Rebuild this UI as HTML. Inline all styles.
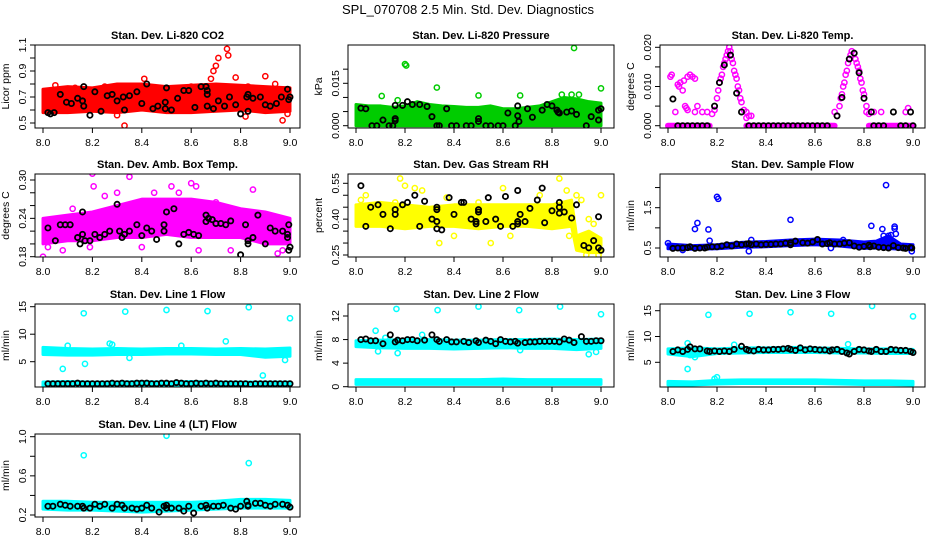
<!DOCTYPE html>
<html><head><meta charset="utf-8">
<style>
body{margin:0;background:#fff;}
svg{display:block;font-family:"Liberation Sans",sans-serif;}
</style></head>
<body>
<svg id="chart" width="936" height="540" viewBox="0 0 936 540">
<text x="468" y="14" text-anchor="middle" font-size="13">SPL_070708  2.5 Min. Std. Dev. Diagnostics</text>
</svg>
<script>
// ---------- data ----------
const xTicks=[8.0,8.2,8.4,8.6,8.8,9.0];
const xTickLabels=["8.0","8.2","8.4","8.6","8.8","9.0"];
const step10=[8.0,8.1,8.2,8.3,8.4,8.5,8.6,8.7,8.8,8.9,9.0];

// CO2
const co2BandLo=[0.58,0.58,0.59,0.58,0.60,0.58,0.58,0.59,0.60,0.58,0.59];
const co2BandHi=[0.76,0.78,0.77,0.80,0.80,0.78,0.79,0.80,0.79,0.78,0.77];
const co2Out=[[8.33,0.48],[8.41,0.84],[8.69,0.90],[8.70,0.94],[8.71,1.0],[8.745,1.07],[8.75,1.02],[8.68,0.84],[8.78,0.85],[8.9,0.86],[8.94,0.8],[8.83,0.78],[8.82,0.55],[8.97,0.52],[8.99,0.57],[8.30,0.56],[8.05,0.79],[8.13,0.77],[8.25,0.78],[8.6,0.78]];
const co2Black=[[8.02,0.58],[8.03,0.57],[8.045,0.58],[8.07,0.72],[8.095,0.66],[8.115,0.65],[8.14,0.69],[8.16,0.67],[8.165,0.78],[8.165,0.63],[8.19,0.56],[8.21,0.74],[8.235,0.59],[8.26,0.71],[8.28,0.72],[8.3,0.67],[8.325,0.7],[8.33,0.6],[8.35,0.71],[8.38,0.74],[8.4,0.65],[8.42,0.8],[8.445,0.61],[8.465,0.63],[8.495,0.66],[8.495,0.61],[8.5,0.77],[8.52,0.6],[8.545,0.69],[8.57,0.75],[8.59,0.75],[8.615,0.62],[8.64,0.78],[8.66,0.78],[8.665,0.72],[8.665,0.75],[8.665,0.63],[8.69,0.61],[8.71,0.67],[8.735,0.63],[8.755,0.7],[8.78,0.64],[8.8,0.57],[8.825,0.7],[8.83,0.59],[8.83,0.72],[8.85,0.69],[8.88,0.7],[8.9,0.64],[8.92,0.63],[8.945,0.65],[8.965,0.7],[8.99,0.76],[8.995,0.68],[9.0,0.7]];

// Pressure
const presBandX=[8.0,8.05,8.1,8.15,8.2,8.25,8.3,8.35,8.4,8.45,8.5,8.55,8.6,8.65,8.7,8.75,8.8,8.85,8.9,8.95,9.0];
const presBandLo=[0,0,0,0,0,0,0,0,0,0,0,0,0,0,0,0,0,0,0,0,0];
const presBandHi=[0.0075,0.007,0.007,0.0065,0.007,0.0085,0.0075,0.007,0.0068,0.0065,0.0065,0.007,0.006,0.006,0.0065,0.007,0.0085,0.0100,0.0095,0.0085,0.008];
const presOut=[[8.2,0.0218],[8.205,0.0213],[8.89,0.0275],[8.33,0.0135],[9.0,0.0132],[8.105,0.0105],[8.5,0.0107],[8.67,0.0107],[8.84,0.011],[8.88,0.011],[8.91,0.011],[8.17,0.009]];
const presBlack=[[8.02,0.0062],[8.04,0.006],[8.065,0],[8.085,0],[8.11,0.002],[8.135,0],[8.15,0],[8.16,0.0072],[8.16,0.0025],[8.16,0.0018],[8.19,0.0072],[8.21,0.0085],[8.23,0.0075],[8.26,0.0075],[8.29,0.0068],[8.31,0.0032],[8.33,0],[8.34,0],[8.37,0.006],[8.39,0],[8.41,0],[8.45,0],[8.47,0],[8.5,0.0025],[8.5,0.0015],[8.53,0],[8.55,0],[8.58,0],[8.6,0],[8.62,0.0045],[8.65,0],[8.66,0.007],[8.66,0.0035],[8.665,0.0015],[8.7,0.006],[8.72,0.003],[8.76,0.0055],[8.78,0.0075],[8.8,0.007],[8.82,0.0055],[8.825,0.0048],[8.83,0.0045],[8.86,0.0048],[8.88,0.0052],[8.9,0.004],[8.94,0],[8.96,0.0032],[8.99,0.0055],[8.99,0.002],[9.0,0.006]];

// Temp
const tempBaseX=[8.0,8.17,8.32,8.68,8.82,9.0];
const tempPts=[[8.01,0.0125],[8.015,0.013],[8.03,0.0035],[8.04,0.0105],[8.045,0.01],[8.05,0.011],[8.06,0.009],[8.065,0.0115],[8.07,0.005],[8.08,0.0125],[8.09,0.013],[8.1,0.0125],[8.11,0.012],[8.12,0.005],[8.075,0.0045],[8.08,0.004],[8.11,0.0035],[8.14,0.0035],[8.16,0.0035],
[8.18,0.003],[8.19,0.004],[8.2,0.007],[8.205,0.009],[8.21,0.011],[8.215,0.012],[8.22,0.013],[8.225,0.015],[8.23,0.016],[8.235,0.017],[8.24,0.018],[8.245,0.019],[8.25,0.02],[8.255,0.019],[8.26,0.017],[8.265,0.016],[8.27,0.014],[8.275,0.013],[8.28,0.012],[8.285,0.010],[8.29,0.009],[8.295,0.007],[8.3,0.006],[8.31,0.004],[8.32,0.002],[8.32,0.0035],[8.33,0.0025],[8.34,0.0025],
[8.68,0.0035],[8.69,0.0025],[8.7,0.005],[8.705,0.007],[8.71,0.008],[8.715,0.01],[8.72,0.011],[8.725,0.013],[8.73,0.014],[8.735,0.016],[8.74,0.017],[8.745,0.018],[8.75,0.019],[8.76,0.0185],[8.765,0.017],[8.77,0.016],[8.775,0.015],[8.78,0.014],[8.785,0.012],[8.79,0.011],[8.795,0.009],[8.8,0.008],[8.81,0.005],[8.82,0.003],[8.81,0.0035],[8.84,0.0035],[8.87,0.0035],[8.97,0.0035],[8.98,0.0045]];
const tempBlack=[[8.02,0.0068],[8.04,0],[8.06,0],[8.08,0],[8.1,0],[8.12,0],[8.14,0],[8.16,0],[8.19,0.005],[8.21,0.011],[8.23,0.0155],[8.255,0.018],[8.28,0.0083],[8.3,0.0035],[8.33,0],[8.35,0],[8.37,0],[8.39,0],[8.41,0],[8.43,0],[8.45,0],[8.47,0],[8.49,0],[8.51,0],[8.53,0],[8.55,0],[8.57,0],[8.59,0],[8.61,0],[8.63,0],[8.65,0],[8.69,0.0025],[8.71,0.0072],[8.74,0.017],[8.76,0.0185],[8.78,0.0135],[8.8,0.007],[8.83,0.0035],[8.84,0],[8.86,0],[8.88,0],[8.92,0.0035],[8.95,0],[8.97,0],[8.99,0.0035],[9.0,0]];

// Amb box temp
const ambBandLo=[0.20,0.205,0.205,0.21,0.21,0.215,0.21,0.21,0.21,0.20,0.20];
const ambBandHi=[0.24,0.245,0.25,0.26,0.27,0.27,0.27,0.265,0.255,0.25,0.24];
const ambOut=[[8.0,0.18],[8.2,0.31],[8.205,0.29],[8.35,0.305],[8.6,0.295],[8.85,0.285],[8.52,0.29],[8.62,0.29],[8.12,0.255],[8.02,0.195],[8.08,0.19],[8.19,0.195],[8.4,0.195],[8.63,0.19],[8.76,0.19],[8.95,0.185],[8.97,0.19],[8.3,0.28],[8.25,0.275],[8.45,0.28],[8.55,0.28],[8.7,0.265]];
const ambBlack=[[8.02,0.225],[8.05,0.205],[8.07,0.23],[8.09,0.23],[8.11,0.23],[8.14,0.21],[8.15,0.2],[8.16,0.25],[8.16,0.215],[8.17,0.205],[8.19,0.205],[8.21,0.215],[8.23,0.21],[8.25,0.215],[8.27,0.22],[8.3,0.262],[8.31,0.22],[8.32,0.21],[8.33,0.215],[8.35,0.22],[8.38,0.23],[8.4,0.213],[8.42,0.225],[8.44,0.22],[8.46,0.207],[8.49,0.22],[8.49,0.23],[8.5,0.25],[8.53,0.255],[8.55,0.2],[8.57,0.215],[8.59,0.218],[8.61,0.215],[8.63,0.213],[8.66,0.245],[8.66,0.235],[8.67,0.24],[8.685,0.238],[8.7,0.232],[8.72,0.232],[8.74,0.23],[8.76,0.236],[8.8,0.183],[8.82,0.23],[8.83,0.205],[8.83,0.2],[8.85,0.21],[8.87,0.245],[8.9,0.2],[8.92,0.225],[8.94,0.22],[8.97,0.22],[8.99,0.215],[8.99,0.21],[8.995,0.19],[9.0,0.195],[8.995,0.23]];

// Gas stream RH
const rhBandX=[8.0,8.1,8.2,8.3,8.4,8.5,8.6,8.7,8.8,8.88,8.9,8.95,9.0];
const rhBandLo=[0.37,0.37,0.36,0.37,0.37,0.36,0.37,0.37,0.36,0.37,0.27,0.26,0.26];
const rhBandHi=[0.46,0.47,0.46,0.45,0.46,0.46,0.46,0.46,0.46,0.48,0.33,0.35,0.32];
const rhOut=[[8.02,0.48],[8.04,0.5],[8.18,0.57],[8.2,0.54],[8.24,0.53],[8.27,0.52],[8.37,0.49],[8.5,0.47],[8.6,0.53],[8.75,0.5],[8.83,0.57],[8.86,0.52],[8.9,0.5],[8.92,0.48],[9.0,0.5],[8.16,0.47],[8.34,0.3],[8.4,0.33],[8.55,0.3],[8.63,0.33],[8.87,0.33],[8.95,0.4],[8.97,0.38],[8.99,0.25],[8.94,0.25]];
const rhBlack=[[8.02,0.54],[8.04,0.37],[8.06,0.45],[8.09,0.46],[8.11,0.42],[8.14,0.36],[8.16,0.44],[8.16,0.42],[8.19,0.46],[8.21,0.47],[8.24,0.5],[8.26,0.37],[8.28,0.475],[8.31,0.4],[8.33,0.39],[8.33,0.44],[8.33,0.45],[8.33,0.36],[8.35,0.355],[8.38,0.49],[8.4,0.42],[8.43,0.47],[8.44,0.47],[8.47,0.4],[8.49,0.38],[8.5,0.43],[8.5,0.44],[8.49,0.39],[8.53,0.39],[8.54,0.49],[8.57,0.4],[8.59,0.37],[8.61,0.495],[8.64,0.37],[8.66,0.52],[8.66,0.38],[8.67,0.42],[8.66,0.39],[8.69,0.39],[8.71,0.445],[8.74,0.48],[8.76,0.53],[8.77,0.385],[8.8,0.435],[8.83,0.47],[8.83,0.45],[8.83,0.425],[8.85,0.43],[8.88,0.405],[8.9,0.46],[8.93,0.29],[8.95,0.28],[8.97,0.31],[8.99,0.28],[9.0,0.27],[8.99,0.41]];

// Sample flow
const sfBandX=[8.0,8.1,8.2,8.3,8.4,8.5,8.6,8.7,8.8,8.85,8.9,8.95,9.0];
const sfBandLo=[0.48,0.47,0.48,0.52,0.53,0.56,0.58,0.55,0.49,0.5,0.49,0.47,0.47];
const sfBandHi=[0.6,0.56,0.58,0.64,0.66,0.7,0.72,0.7,0.65,0.67,0.8,0.6,0.58];
const sfOut=[[8.0,0.62],[8.11,0.97],[8.12,1.12],[8.165,0.96],[8.17,0.68],[8.2,1.77],[8.205,1.72],[8.33,0.42],[8.34,0.7],[8.5,1.2],[8.5,0.65],[8.665,0.5],[8.715,0.7],[8.83,1.05],[8.875,0.97],[8.89,2.06],[8.925,1.03],[8.925,0.98],[8.93,0.85],[8.9,0.8],[8.91,0.82],[8.88,0.8],[8.995,0.42],[8.06,0.45]];
const sfBlack=[[8.02,0.49],[8.04,0.5],[8.06,0.5],[8.08,0.51],[8.09,0.53],[8.11,0.49],[8.13,0.5],[8.15,0.5],[8.16,0.52],[8.18,0.53],[8.2,0.53],[8.22,0.55],[8.24,0.58],[8.26,0.55],[8.28,0.6],[8.3,0.58],[8.32,0.6],[8.33,0.61],[8.34,0.58],[8.36,0.6],[8.38,0.58],[8.4,0.59],[8.42,0.59],[8.44,0.6],[8.46,0.6],[8.48,0.62],[8.5,0.58],[8.5,0.63],[8.52,0.67],[8.55,0.63],[8.57,0.62],[8.59,0.65],[8.61,0.71],[8.63,0.6],[8.65,0.61],[8.66,0.63],[8.68,0.6],[8.7,0.6],[8.72,0.62],[8.74,0.63],[8.76,0.55],[8.78,0.52],[8.8,0.54],[8.82,0.57],[8.825,0.53],[8.84,0.55],[8.86,0.52],[8.88,0.51],[8.9,0.5],[8.92,0.56],[8.94,0.51],[8.96,0.5],[8.97,0.49],[8.99,0.51],[8.995,0.5]];

// Line 1
const l1BandLo=[6.3,6.2,6.2,6.3,6.3,6.4,6.4,6.3,6.3,5.8,6.0];
const l1BandHi=[7.6,7.4,7.3,7.4,7.3,7.4,7.4,7.3,7.4,7.3,7.5];
const l1Band2Lo=[0.6,0.6,0.6,0.6,0.6,0.6,0.6,0.6,0.6,0.6,0.6];
const l1Band2Hi=[1.3,1.4,1.3,1.3,1.4,1.3,1.4,1.3,1.3,1.3,1.3];
const l1Out=[[8.08,3.7],[8.165,13.8],[8.17,4.6],[8.333,14.1],[8.5,14.4],[8.666,14.2],[8.833,14.9],[9.0,12.9],[8.89,2.5],[8.98,5.3],[8.27,8.3],[8.28,8.1],[8.74,8.7],[8.1,7.9],[8.56,7.9],[8.35,5.7]];
const l1BlackX=[8.02,8.04,8.06,8.08,8.1,8.12,8.14,8.16,8.18,8.2,8.22,8.24,8.26,8.28,8.3,8.32,8.34,8.36,8.38,8.4,8.42,8.44,8.46,8.48,8.5,8.52,8.54,8.56,8.58,8.6,8.62,8.64,8.66,8.68,8.7,8.72,8.74,8.76,8.78,8.8,8.82,8.84,8.86,8.88,8.9,8.92,8.94,8.96,8.98,9.0];
const l1BlackY=[1.0,1.0,1.0,1.0,1.0,1.0,1.1,1.0,1.0,1.0,1.0,1.0,1.0,1.1,1.0,1.1,1.0,1.0,1.1,1.1,1.1,1.0,1.0,1.1,1.1,1.0,1.2,1.1,1.0,1.0,1.1,1.0,1.1,1.0,1.1,1.0,1.0,1.0,1.0,1.0,1.0,0.9,1.0,1.0,1.0,1.0,1.0,1.0,1.0,1.0];

// Line 2
const l2BandLo=[6.8,6.6,6.5,6.5,6.4,6.5,6.6,6.5,6.5,6.3,6.5];
const l2BandHi=[7.8,7.9,8.0,8.0,7.9,7.9,8.0,8.0,8.1,8.0,8.1];
const l2Band2Lo=[0.4,0.4,0.4,0.4,0.4,0.4,0.4,0.4,0.4,0.4,0.4];
const l2Band2Hi=[1.2,1.2,1.2,1.2,1.2,1.2,1.3,1.2,1.2,1.2,1.2];
const l2Out=[[8.08,9.5],[8.165,13.2],[8.333,13.0],[8.5,13.6],[8.666,13.0],[8.833,13.6],[9.0,12.3],[8.09,6.0],[8.17,5.7],[8.27,8.8],[8.95,5.5],[8.98,5.9],[8.67,6.2],[8.12,8.3]];
const l2Black=[[8.02,8.0],[8.04,8.1],[8.06,7.8],[8.08,7.8],[8.11,7.3],[8.14,8.8],[8.16,7.6],[8.17,7.9],[8.19,7.8],[8.21,8.0],[8.23,8.0],[8.25,7.8],[8.28,7.9],[8.31,8.8],[8.33,8.0],[8.34,7.7],[8.37,8.0],[8.39,7.6],[8.41,7.6],[8.44,7.7],[8.46,7.5],[8.49,7.8],[8.5,7.5],[8.53,7.9],[8.55,7.7],[8.57,7.3],[8.59,8.0],[8.61,7.7],[8.63,7.6],[8.65,7.7],[8.66,7.4],[8.69,7.5],[8.71,7.6],[8.73,7.6],[8.75,7.7],[8.77,7.7],[8.79,7.7],[8.81,7.7],[8.83,7.6],[8.85,8.1],[8.87,7.9],[8.89,7.5],[8.92,8.5],[8.94,7.7],[8.96,7.7],[8.98,7.8],[9.0,7.8]];

// Line 3
const l3BandLo=[6.6,6.1,6.7,6.8,6.9,6.9,6.9,6.8,6.8,6.7,6.7];
const l3BandHi=[7.6,7.8,7.6,7.8,7.8,7.9,7.8,7.7,7.6,7.6,7.5];
const l3Band2Lo=[0.6,0.6,0.8,0.9,0.9,0.9,0.9,0.8,0.7,0.7,0.6];
const l3Band2Hi=[1.3,1.2,1.5,1.6,1.6,1.6,1.6,1.5,1.4,1.4,1.3];
const l3Out=[[8.08,3.7],[8.08,8.7],[8.11,6.0],[8.165,14.2],[8.19,1.8],[8.2,2.1],[8.27,8.4],[8.333,14.4],[8.5,14.7],[8.666,14.4],[8.735,8.5],[8.833,15.9],[9.0,13.9],[8.09,6.4]];
const l3Black=[[8.02,7.1],[8.04,7.4],[8.06,7.1],[8.08,7.5],[8.09,8.0],[8.11,7.6],[8.13,7.6],[8.16,7.2],[8.17,7.1],[8.19,7.2],[8.21,7.1],[8.23,7.2],[8.25,7.1],[8.27,7.5],[8.3,8.1],[8.32,7.5],[8.33,7.3],[8.35,7.2],[8.37,7.5],[8.39,7.4],[8.41,7.4],[8.43,7.5],[8.45,7.5],[8.47,7.6],[8.49,7.7],[8.5,7.5],[8.52,7.3],[8.54,7.8],[8.56,7.4],[8.58,7.6],[8.6,7.5],[8.62,7.4],[8.64,7.4],[8.66,7.2],[8.67,7.4],[8.69,7.5],[8.71,7.1],[8.73,6.8],[8.74,6.6],[8.76,7.1],[8.78,7.5],[8.8,7.4],[8.82,7.2],[8.83,7.1],[8.85,7.5],[8.87,7.1],[8.89,7.1],[8.91,7.5],[8.93,7.4],[8.95,7.3],[8.97,7.3],[8.99,7.1],[9.0,6.9]];

// Line 4
const l4BandLo=[0.26,0.25,0.25,0.24,0.23,0.24,0.25,0.26,0.27,0.27,0.27];
const l4BandHi=[0.34,0.34,0.33,0.33,0.33,0.33,0.33,0.34,0.36,0.36,0.35];
const l4Out=[[8.165,0.81],[8.5,1.01],[8.833,0.73]];
const l4Black=[[8.02,0.29],[8.04,0.29],[8.07,0.31],[8.09,0.3],[8.11,0.29],[8.14,0.29],[8.16,0.29],[8.165,0.27],[8.19,0.27],[8.21,0.31],[8.23,0.29],[8.25,0.31],[8.28,0.27],[8.3,0.31],[8.32,0.3],[8.33,0.27],[8.36,0.27],[8.38,0.26],[8.4,0.27],[8.42,0.3],[8.44,0.27],[8.47,0.23],[8.49,0.29],[8.5,0.27],[8.5,0.3],[8.52,0.27],[8.55,0.27],[8.57,0.24],[8.59,0.29],[8.61,0.22],[8.64,0.29],[8.66,0.3],[8.665,0.27],[8.69,0.29],[8.71,0.29],[8.73,0.3],[8.76,0.27],[8.78,0.26],[8.8,0.29],[8.825,0.34],[8.83,0.3],[8.83,0.29],[8.86,0.32],[8.88,0.32],[8.9,0.3],[8.92,0.29],[8.94,0.31],[8.97,0.31],[8.99,0.3],[9.0,0.28]];

// ---------- drawing ----------
const NS="http://www.w3.org/2000/svg";
const svg=document.getElementById('chart');
function mk(tag,attrs,parent){const e=document.createElementNS(NS,tag);for(const k in attrs)e.setAttribute(k,attrs[k]);(parent||svg).appendChild(e);return e;}

const cols=[{L:35,R:300,x0:43,x1:290},{L:348,R:614,x0:356,x1:601},{L:660,R:925,x0:668,x1:913}];
const rows=[{T:45,B:128},{T:174,B:257},{T:304,B:387},{T:434,B:517}];

const panels=[
 {name:'co2',title:'Stan. Dev. Li-820 CO2',ylab:'Licor ppm',c:0,r:0,color:'#ff0000',ya:[0.5,123],yb:[1.1,45],ticks:[0.5,0.6,0.7,0.8,0.9,1.0,1.1],labels:["0.5","","0.7","","0.9","","1.1"],
  bands:[[step10,co2BandLo,co2BandHi]],out:co2Out,black:co2Black},
 {name:'pressure',title:'Stan. Dev. Li-820 Pressure',ylab:'kPa',c:1,r:0,color:'#00cc00',ya:[0,125.7],yb:[0.015,83.3],ticks:[0,0.005,0.01,0.015,0.02],labels:["0.000","","","0.015",""],
  bands:[[presBandX,presBandLo,presBandHi]],out:presOut,black:presBlack},
 {name:'temp',title:'Stan. Dev. Li-820 Temp.',ylab:'degrees C',c:2,r:0,color:'#ff00ff',ya:[0,125.7],yb:[0.02,47.3],ticks:[0,0.005,0.01,0.015,0.02],labels:["0.000","","0.010","","0.020"],
  bands:[],base:tempBaseX,out:tempPts,black:tempBlack},
 {name:'amb-box',title:'Stan. Dev. Amb. Box Temp.',ylab:'degrees C',c:0,r:1,color:'#ff00ff',ya:[0.18,256.7],yb:[0.30,180],ticks:[0.18,0.2,0.22,0.24,0.26,0.28,0.30],labels:["0.18","","","0.24","","","0.30"],
  bands:[[step10,ambBandLo,ambBandHi]],out:ambOut,black:ambBlack},
 {name:'gas-rh',title:'Stan. Dev. Gas Stream RH',ylab:'percent',c:1,r:1,color:'#ffff00',ya:[0.25,255],yb:[0.55,183.3],ticks:[0.25,0.3,0.35,0.4,0.45,0.5,0.55],labels:["0.25","","","0.40","","","0.55"],
  bands:[[rhBandX,rhBandLo,rhBandHi]],out:rhOut,black:rhBlack},
 {name:'sample-flow',title:'Stan. Dev. Sample Flow',ylab:'ml/min',c:2,r:1,color:'#0000ff',ya:[0.5,248],yb:[1.5,207.7],ticks:[0.5,1.0,1.5,2.0],labels:["0.5","","1.5",""],
  bands:[[sfBandX,sfBandLo,sfBandHi]],out:sfOut,black:sfBlack},
 {name:'line1',title:'Stan. Dev. Line 1 Flow',ylab:'ml/min',c:0,r:2,color:'#00ffff',ya:[5,361.7],yb:[15,306.7],ticks:[5,10,15],labels:["5","10","15"],
  bands:[[step10,l1BandLo,l1BandHi],[step10,l1Band2Lo,l1Band2Hi]],out:l1Out,black:l1BlackX.map((x,i)=>[x,l1BlackY[i]])},
 {name:'line2',title:'Stan. Dev. Line 2 Flow',ylab:'ml/min',c:1,r:2,color:'#00ffff',ya:[0,386.7],yb:[12,316],ticks:[0,4,8,12],labels:["0","4","8","12"],
  bands:[[step10,l2BandLo,l2BandHi],[step10,l2Band2Lo,l2Band2Hi]],out:l2Out,black:l2Black},
 {name:'line3',title:'Stan. Dev. Line 3 Flow',ylab:'ml/min',c:2,r:2,color:'#00ffff',ya:[5,362.3],yb:[15,310.7],ticks:[5,10,15],labels:["5","10","15"],
  bands:[[step10,l3BandLo,l3BandHi],[step10,l3Band2Lo,l3Band2Hi]],out:l3Out,black:l3Black},
 {name:'line4',title:'Stan. Dev. Line 4 (LT) Flow',ylab:'ml/min',c:0,r:3,color:'#00ffff',ya:[0.2,515],yb:[1.0,436.7],ticks:[0.2,0.4,0.6,0.8,1.0],labels:["0.2","","0.6","","1.0"],
  bands:[[step10,l4BandLo,l4BandHi]],out:l4Out,black:l4Black}
];

panels.forEach(p=>{
  const col=cols[p.c], row=rows[p.r];
  const g=mk('g',{});
  
  
  const xs=v=>col.x0+(v-8)*(col.x1-col.x0);
  const ys=v=>p.ya[1]+(v-p.ya[0])*(p.yb[1]-p.ya[1])/(p.yb[0]-p.ya[0]);
  const t=mk('text',{x:(col.L+col.R)/2,y:row.T-6,'text-anchor':'middle','font-size':'11','font-weight':'bold'},g);
  t.textContent=p.title;
  
  
  const clip='clip-'+p.name;
  const cp=mk('clipPath',{id:clip},g);
  mk('rect',{x:col.L,y:row.T,width:col.R-col.L,height:row.B-row.T},cp);
  const dg=mk('g',{'clip-path':'url(#'+clip+')'},g);
  p.bands.forEach(b=>{
    const [bx,lo,hi]=b;
    let pts=bx.map((x,i)=>xs(x)+','+ys(hi[i]));
    pts=pts.concat(bx.map((x,i)=>[x,i]).reverse().map(([x,i])=>xs(x)+','+ys(lo[i])));
    const poly=mk('polygon',{points:pts.join(' '),fill:p.color,stroke:p.color,'stroke-width':'3','stroke-linejoin':'round'},dg);
    
    
  });
  if(p.base){
    for(let i=0;i<p.base.length;i+=2){
      const ln=mk('line',{x1:xs(p.base[i]),x2:xs(p.base[i+1]),y1:ys(0),y2:ys(0),stroke:p.color,'stroke-width':'6','stroke-linecap':'round'},dg);
      
      
    }
  }
  p.out.forEach(([x,y])=>{
    const c=mk('circle',{cx:xs(x),cy:ys(y),r:2.6,fill:'none',stroke:p.color,'stroke-width':'1.5'},dg);
    
    
  });
  p.black.forEach(([x,y])=>{
    const c=mk('circle',{cx:xs(x),cy:ys(y),r:2.6,fill:'none',stroke:'#000','stroke-width':'1.8'},dg);
    
    
  });
  mk('rect',{x:col.L,y:row.T,width:col.R-col.L,height:row.B-row.T,fill:'none',stroke:'#000','stroke-width':'1'},g);
  const xa=mk('g',{},g);
  
  
  mk('line',{x1:xs(xTicks[0]),x2:xs(xTicks[xTicks.length-1]),y1:row.B,y2:row.B,stroke:'#000'},xa);
  xTicks.forEach((v,i)=>{
    mk('line',{x1:xs(v),x2:xs(v),y1:row.B,y2:row.B+5,stroke:'#000'},xa);
    const tl=mk('text',{x:xs(v),y:row.B+18,'text-anchor':'middle','font-size':'10.5'},xa);
    tl.textContent=xTickLabels[i];
    
    
  });
  const ya=mk('g',{},g);
  
  
  mk('line',{x1:col.L,x2:col.L,y1:ys(p.ticks[0]),y2:ys(p.ticks[p.ticks.length-1]),stroke:'#000'},ya);
  p.ticks.forEach((v,i)=>{
    mk('line',{x1:col.L-5,x2:col.L,y1:ys(v),y2:ys(v),stroke:'#000'},ya);
    if(p.labels[i]){
      const tl=mk('text',{x:col.L-9,y:ys(v),'text-anchor':'middle','font-size':'10.5',transform:'rotate(-90 '+(col.L-9)+' '+ys(v)+')'},ya);
      tl.textContent=p.labels[i];
      
      
    }
  });
  const cy=(row.T+row.B)/2, lx=col.L-26;
  const yl=mk('text',{x:lx,y:cy,'text-anchor':'middle','font-size':'10.5',transform:'rotate(-90 '+lx+' '+cy+')'},g);
  yl.textContent=p.ylab;
  
  
});
</script>
</body></html>
